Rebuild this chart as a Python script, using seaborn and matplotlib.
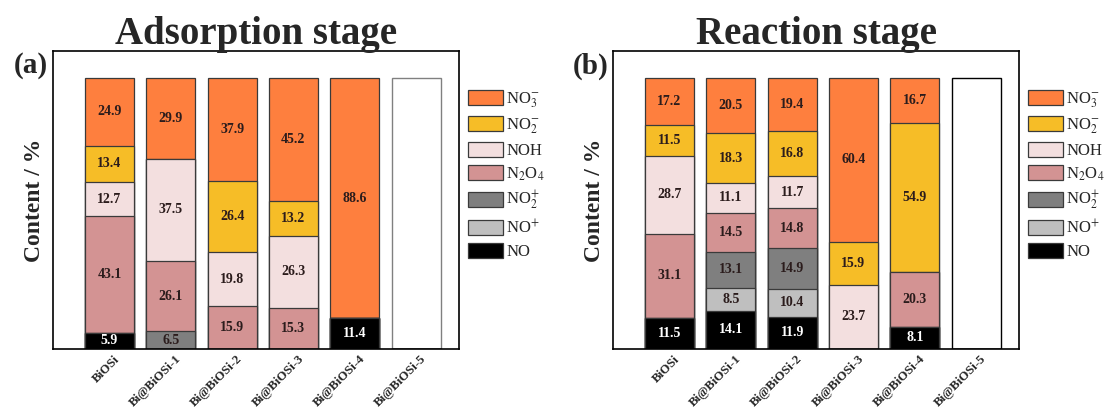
import numpy as np
import pandas as pd
import matplotlib
matplotlib.use("Agg")
import matplotlib.pyplot as plt
import seaborn as sns
from matplotlib.patches import Patch
from matplotlib.transforms import ScaledTranslation

# categories
samples = ["BiOSi", "Bi@BiOSi-1", "Bi@BiOSi-2", "Bi@BiOSi-3", "Bi@BiOSi-4", "Bi@BiOSi-5"]
species = ["NO", "NO+", "NO2+", "N2O4", "NOH", "NO2-", "NO3-"]  # bottom -> top
species_labels = [r"NO", r"NO$^{+}$", r"NO$_{2}^{+}$", r"N$_{2}$O$_{4}$", "NOH",
                  r"NO$_{2}^{-}$", r"NO$_{3}^{-}$"]
colors = ["#000000", "#bfbfbf", "#7f7f7f", "#d39393", "#f3dfdf", "#f6bd27", "#fe7f3e"]

# (a) adsorption stage, content / %
ads_NO = [5.9, 0, 0, 0, 11.4, 0]
ads_NOp = [0, 0, 0, 0, 0, 0]
ads_NO2p = [0, 6.5, 0, 0, 0, 0]
ads_N2O4 = [43.1, 26.1, 15.9, 15.3, 0, 0]
ads_NOH = [12.7, 37.5, 19.8, 26.3, 0, 0]
ads_NO2m = [13.4, 0, 26.4, 13.2, 0, 0]
ads_NO3m = [24.9, 29.9, 37.9, 45.2, 88.6, 0]

# (b) reaction stage, content / %
rea_NO = [11.5, 14.1, 11.9, 0, 8.1, 0]
rea_NOp = [0, 8.5, 10.4, 0, 0, 0]
rea_NO2p = [0, 13.1, 14.9, 0, 0, 0]
rea_N2O4 = [31.1, 14.5, 14.8, 0, 20.3, 0]
rea_NOH = [28.7, 11.1, 11.7, 23.7, 0, 0]
rea_NO2m = [11.5, 18.3, 16.8, 15.9, 54.9, 0]
rea_NO3m = [17.2, 20.5, 19.4, 60.4, 16.7, 0]

full_scale = 100  # samples without data are drawn as an empty 100 % box


def make_df(cols):
    df = pd.DataFrame(dict(zip(species, cols)))
    df.insert(0, "sample", samples)
    return df


ads_df = make_df([ads_NO, ads_NOp, ads_NO2p, ads_N2O4, ads_NOH, ads_NO2m, ads_NO3m])
rea_df = make_df([rea_NO, rea_NOp, rea_NO2p, rea_N2O4, rea_NOH, rea_NO2m, rea_NO3m])

sns.set_theme(style="white")
plt.rcParams["font.family"] = ["Liberation Serif", "DejaVu Serif"]
plt.rcParams["mathtext.fontset"] = "stix"

edge = "#3a3a3a"


def draw_stage(fig, ax, df, title, tag, empty_edge):
    cum = df[species].cumsum(axis=1)
    total = cum[species[-1]]

    # empty boxes for samples without data
    empty_h = np.where(total == 0, full_scale, 0)
    sns.barplot(x=df["sample"], y=empty_h, color="white", saturation=1, width=0.8,
                edgecolor=empty_edge, linewidth=1.0, errorbar=None, ax=ax)

    # stacked bars: draw cumulative heights from the top species down
    for sp, col in reversed(list(zip(species, colors))):
        sns.barplot(x=df["sample"], y=cum[sp], color=col, saturation=1, width=0.8,
                    edgecolor=edge, linewidth=0.9, errorbar=None, ax=ax)

    for i in range(len(df)):
        for sp in species:
            v = df[sp].iloc[i]
            if v > 0:
                ax.text(i, cum[sp].iloc[i] - v / 2, f"{v:.1f}", ha="center", va="center",
                        fontsize=10, fontweight="bold",
                        color="white" if sp == "NO" else "#2b1c1c")

    ax.set_xlim(-0.92, len(df) - 1 + 0.7)
    ax.set_ylim(0, 110)
    ax.set_yticks([])
    ax.set_xlabel("")
    ax.set_ylabel("Content / %", fontsize=17, fontweight="bold", labelpad=6)
    ax.set_xticks(range(len(df)))
    ax.set_xticklabels(df["sample"], rotation=45, ha="right", rotation_mode="anchor",
                       fontsize=9.3, fontweight="bold")
    ax.tick_params(axis="x", length=0, pad=3)
    shift = ScaledTranslation(3 / 72, 0, fig.dpi_scale_trans)
    for lab in ax.get_xticklabels():
        lab.set_transform(lab.get_transform() + shift)
    for s in ax.spines.values():
        s.set_color("black")
        s.set_linewidth(1.2)
    ax.set_title(title, fontsize=28, fontweight="bold", pad=5)
    ax.text(-0.012, 0.995, tag, transform=ax.transAxes, ha="right", va="top",
            fontsize=21, fontweight="bold")

    handles = [Patch(facecolor=c, edgecolor=edge, linewidth=0.9, label=l)
               for c, l in zip(colors[::-1], species_labels[::-1])]
    ax.legend(handles=handles, loc="upper left", bbox_to_anchor=(1.022, 0.87),
              borderaxespad=0, borderpad=0, frameon=False, fontsize=12,
              handlelength=2.1, handleheight=1.0, handletextpad=0.2, labelspacing=0.37)


fig = plt.figure(figsize=(11.04, 4.12), dpi=100)
ax_a = fig.add_axes([0.048, 0.153, 0.3678, 0.7233])
ax_b = fig.add_axes([0.5553, 0.153, 0.3678, 0.7233])

draw_stage(fig, ax_a, ads_df, "Adsorption stage", "(a)", "#808080")
draw_stage(fig, ax_b, rea_df, "Reaction stage", "(b)", "black")

fig.savefig("out.png", dpi=100)
plt.close(fig)
